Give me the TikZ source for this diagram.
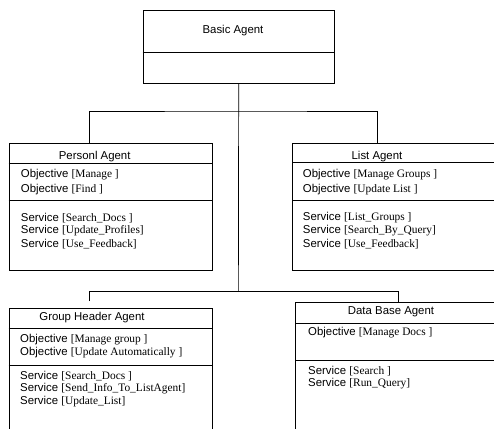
\documentclass[tikz,border=0pt]{standalone}
\usepackage{fontspec}
\setmainfont{Liberation Sans}
\newfontfamily\tms{Liberation Serif}
\usetikzlibrary{calc}
\tikzset{
  agentbox/.style={draw, line width=0.7pt, rectangle, inner sep=0pt, anchor=north west},
  rule/.style={line width=0.7pt},
  link/.style={line width=0.7pt},
  head/.style={inner sep=0pt, font=\fontsize{11.4}{13}\selectfont},
  entry/.style={inner sep=0pt, anchor=west, font=\fontsize{11.4}{13}\selectfont},
}
% bracketed slot value, set in a serif face
\newcommand{\slotarg}[1]{{\tms\fontsize{11.4}{13}\selectfont[#1]}}
\begin{document}
\begin{tikzpicture}[x=1pt, y=-1pt]
\useasboundingbox (0,0) rectangle (494,428);
\clip (0,0) rectangle (494,428);

% boxes
\node[agentbox, minimum width=191.3pt, minimum height=73pt] (basic) at (142.7,10) {};
\node[agentbox, minimum width=203pt, minimum height=127.3pt] (personl) at (8.7,142.7) {};
\node[agentbox, minimum width=230pt, minimum height=127.3pt] (list) at (292,142.7) {};
\node[agentbox, minimum width=203pt, minimum height=140pt] (group) at (8.7,308) {};
\node[agentbox, minimum width=230pt, minimum height=150pt] (db) at (295,302) {};

% compartment rules
\draw[rule] (basic.west |- 0,52) -- (basic.east |- 0,52);
\draw[rule] (personl.west |- 0,163.3) -- (personl.east |- 0,163.3);
\draw[rule] (personl.west |- 0,200.7) -- (personl.east |- 0,200.7);
\draw[rule] (list.west |- 0,162.5) -- (list.east |- 0,162.5);
\draw[rule] (list.west |- 0,200.7) -- (list.east |- 0,200.7);
\draw[rule] (group.west |- 0,328) -- (group.east |- 0,328);
\draw[rule] (group.west |- 0,365.7) -- (group.east |- 0,365.7);
\draw[rule] (db.west |- 0,323) -- (db.east |- 0,323);
\draw[rule] (db.west |- 0,360) -- (db.east |- 0,360);

% titles
\node[head] (basic-t) at (233,31) {Basic Agent};
\node[head] (personl-t) at (94.7,156.5) {Personl Agent};
\node[head] (list-t) at (377,156.5) {List Agent};
\node[head] (group-t) at (92,318) {Group Header Agent};
\node[head] (db-t) at (391,312) {Data Base Agent};

% Personl Agent entries
\node[entry] (p-o1) at (20.7,175) {Objective \slotarg{Manage }};
\node[entry] (p-o2) at (20.7,190) {Objective \slotarg{Find }};
\node[entry] (p-s1) at (20.7,218) {Service \slotarg{Search\_Docs }};
\node[entry] (p-s2) at (20.7,231) {Service \slotarg{Update\_Profiles}};
\node[entry] (p-s3) at (20.7,244) {Service \slotarg{Use\_Feedback}};

% List Agent entries
\node[entry] (l-o1) at (302.7,175) {Objective \slotarg{Manage Groups }};
\node[entry] (l-o2) at (302.7,190) {Objective \slotarg{Update List }};
\node[entry] (l-s1) at (302.7,218) {Service \slotarg{List\_Groups }};
\node[entry] (l-s2) at (302.7,231) {Service \slotarg{Search\_By\_Query}};
\node[entry] (l-s3) at (302.7,244) {Service \slotarg{Use\_Feedback}};

% Group Header Agent entries
\node[entry] (g-o1) at (20,339.5) {Objective \slotarg{Manage group }};
\node[entry] (g-o2) at (20,353) {Objective \slotarg{Update Automatically }};
\node[entry] (g-s1) at (20,376) {Service \slotarg{Search\_Docs }};
\node[entry] (g-s2) at (20,389) {Service \slotarg{Send\_Info\_To\_ListAgent}};
\node[entry] (g-s3) at (20,402) {Service \slotarg{Update\_List}};

% Data Base Agent entries
\node[entry] (d-o1) at (308,333) {Objective \slotarg{Manage Docs }};
\node[entry] (d-s1) at (308,371) {Service \slotarg{Search }};
\node[entry] (d-s2) at (308,384) {Service \slotarg{Run\_Query}};

% connectors
\coordinate (jtop) at (238.35,111);
\coordinate (jbot) at (238.35,291.7);
\coordinate (pin) at ($(personl.north west)+(80.3,0)$);
\coordinate (lin) at ($(list.north west)+(85,0)$);
\coordinate (gin) at ($(group.north west)+(80.3,-7)$);
\coordinate (din) at ($(db.north west)+(103,0)$);
\draw[link] (basic.south) -- (jbot);
\draw[link] (pin) |- (jtop) -| (lin);
\draw[link] (gin) |- (jbot) -| (din);
\end{tikzpicture}
\end{document}
